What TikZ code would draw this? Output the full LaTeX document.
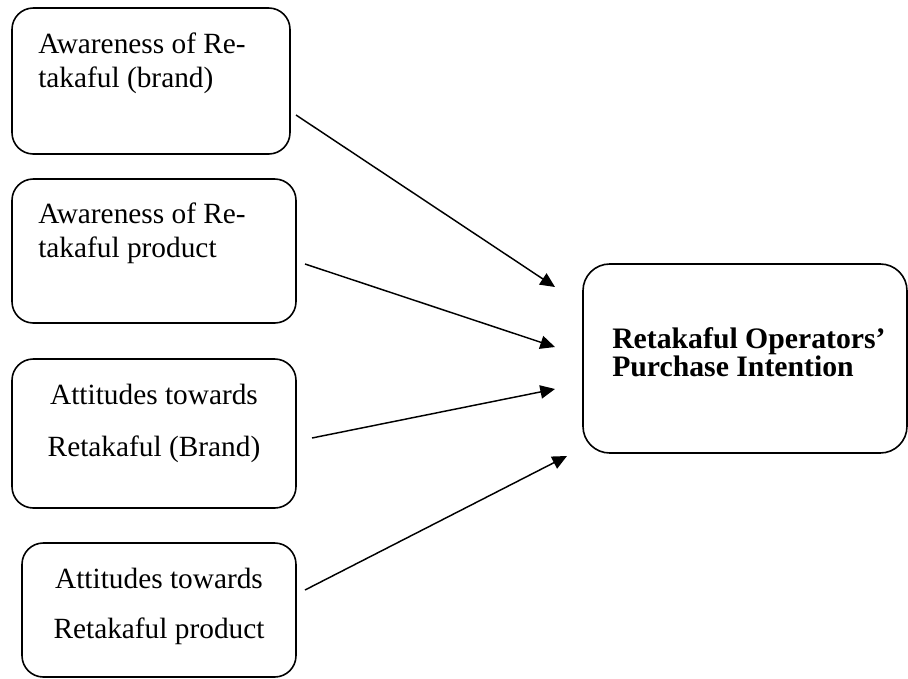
\documentclass[tikz,border=0pt]{standalone}
\usepackage{fontspec}
\setmainfont{Liberation Serif}
\usetikzlibrary{arrows.meta}
\begin{document}
\begin{tikzpicture}[x=0.75pt,y=-0.75pt,
  box/.style={draw,line width=1.2pt,rounded corners=16pt},
  txt/.style={inner sep=0pt,font=\fontsize{22}{26}\selectfont},
  btxt/.style={inner sep=0pt,align=left,font=\fontsize{22.3}{21}\selectfont\bfseries},
  arr/.style={line width=1.1pt,-{Triangle[length=11pt,width=10pt]}}]
\useasboundingbox (0,0) rectangle (908,679);
% boxes
\draw[box] (12,8) rectangle (290,154);
\node[inner sep=0pt] (b1) at (151,81) {};
\draw[box] (12,179) rectangle (296,323);
\node[inner sep=0pt] (b2) at (154,251) {};
\draw[box] (12,359) rectangle (296,508);
\node[inner sep=0pt] (b3) at (154,433) {};
\draw[box] (22,543) rectangle (296,677);
\node[inner sep=0pt] (b4) at (159,610) {};
\draw[box,rounded corners=20pt] (583,264) rectangle (907,453);
\node[inner sep=0pt] (b5) at (745,358) {};
% texts
\node[txt,anchor=base west] (t1a) at (38,53) {Awareness of Re-};
\node[txt,anchor=base west] (t1b) at (38,87) {takaful (brand)};
\node[txt,anchor=base west] (t2a) at (38,223) {Awareness of Re-};
\node[txt,anchor=base west] (t2b) at (38,257) {takaful product};
\node[txt,anchor=base] (t3a) at (154,404) {Attitudes towards};
\node[txt,anchor=base] (t3b) at (154,456) {Retakaful (Brand)};
\node[txt,anchor=base] (t4a) at (159,588) {Attitudes towards};
\node[txt,anchor=base] (t4b) at (159,638) {Retakaful product};
\node[btxt,anchor=base west] (t5) at (612,376) {Retakaful Operators’\\Purchase Intention};
% connector ends
\coordinate (s1) at (296,115);
\coordinate (e1) at (555,287);
\coordinate (s2) at (305,264);
\coordinate (e2) at (555,347);
\coordinate (s3) at (312,438);
\coordinate (e3) at (555,389);
\coordinate (s4) at (305,590);
\coordinate (e4) at (567,456);
\draw[arr] (s1) -- (e1);
\draw[arr] (s2) -- (e2);
\draw[arr] (s3) -- (e3);
\draw[arr] (s4) -- (e4);
\end{tikzpicture}
\end{document}
